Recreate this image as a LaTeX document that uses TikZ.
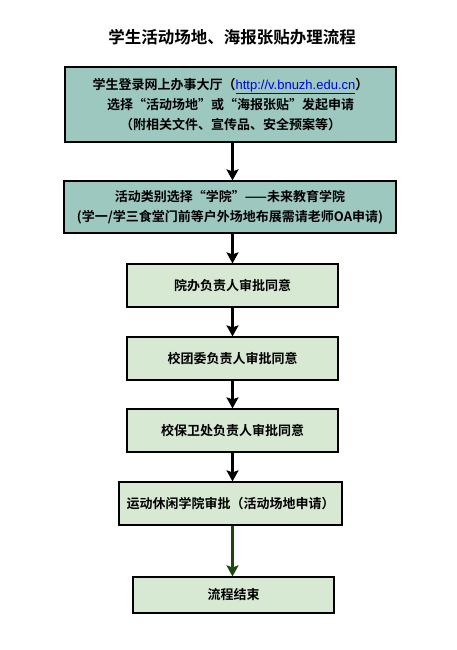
\documentclass[tikz,border=0pt]{standalone}
\usepackage{fontspec}
\setmainfont{Noto Sans CJK SC}[BoldFont={Noto Sans CJK SC Bold}]
\newfontfamily\linkfont{Liberation Sans}
\usetikzlibrary{arrows.meta}
\definecolor{boxteal}{RGB}{157,200,192}
\definecolor{boxgreen}{RGB}{216,233,211}
\definecolor{linkblue}{RGB}{0,0,230}
\definecolor{endgreen}{RGB}{26,74,16}

\begin{document}
\begin{tikzpicture}[x=1pt,y=-1pt,
  box/.style={draw,line width=1.2pt,align=center,inner sep=0pt,
    font=\bfseries\fontsize{13}{20}\selectfont},
  upper/.style={box,fill=boxteal},
  lower/.style={box,fill=boxgreen,minimum height=43pt},
  arr/.style={-{Stealth[width=12pt,length=11pt,inset=2pt]},line width=2.6pt}]
\useasboundingbox (0,0) rectangle (457,650);
\node (title) at (232,37) {\bfseries\fontsize{16.5}{20}\selectfont 学生活动场地、海报张贴办理流程};
\node (apply) [upper,minimum width=331pt,minimum height=75pt] at (230.5,104.5)
  {学生登录网上办事大厅（\textcolor{linkblue}{\linkfont\mdseries\underline{http://v.bnuzh.edu.cn}}）\\
   选择“活动场地”或“海报张贴”发起申请\\（附相关文件、宣传品、安全预案等）};
\node (type) [upper,minimum width=332pt,minimum height=52pt] at (230,207)
  {活动类别选择“学院”——未来教育学院\\(学一/学三食堂门前等户外场地布展需请老师OA申请)};
\node (office) [lower,minimum width=211pt] at (232.5,285.5) {院办负责人审批同意};
\node (league) [lower,minimum width=211pt] at (232.5,358.5) {校团委负责人审批同意};
\node (security) [lower,minimum width=211pt] at (232.5,430.5) {校保卫处负责人审批同意};
\node (sports) [lower,minimum width=223pt] at (230.5,503.5) {运动休闲学院审批（活动场地申请）};
\node (done) [lower,minimum width=201pt,minimum height=36pt] at (233.5,595) {流程结束};
\draw [arr] (office.north |- apply.south) -- (office.north |- type.north);
\draw [arr] (office.north |- type.south) -- (office.north);
\draw [arr] (office.south) -- (league.north);
\draw [arr] (league.south) -- (security.north);
\draw [arr] (security.south) -- (security.south |- sports.north);
\draw [arr,endgreen] (office.south |- sports.south) -- (office.south |- done.north);
\end{tikzpicture}
\end{document}
